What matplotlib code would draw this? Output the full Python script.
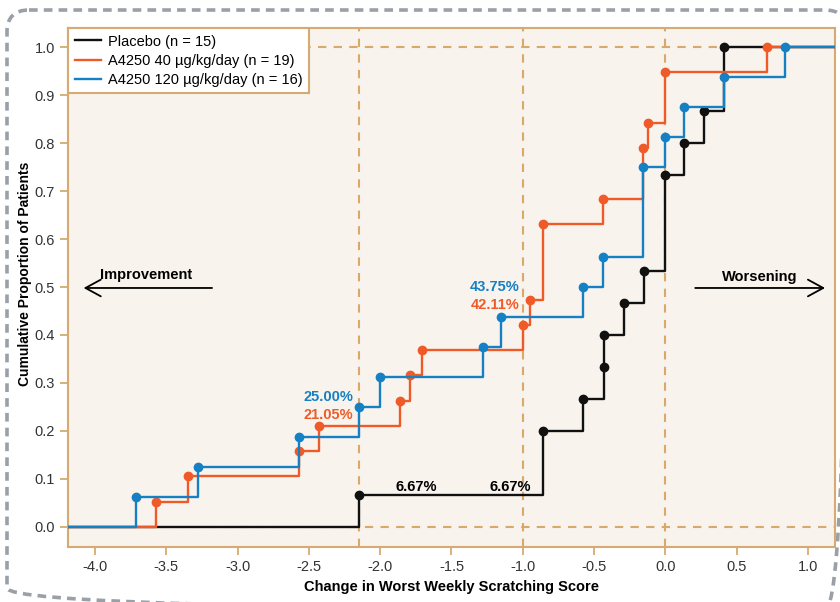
import numpy as np
import matplotlib
matplotlib.use("Agg")
import matplotlib.pyplot as plt
from matplotlib.patches import FancyBboxPatch

plt.rcParams['font.family'] = ['Liberation Sans', 'DejaVu Sans']

# cumulative step data (x where the step occurs, number of patients reached)
placebo_x = [-2.15, -0.86, -0.575, -0.43, -0.43, -0.29, -0.15, 0.0, 0.13, 0.27, 0.41]
placebo_n = [1, 3, 4, 5, 6, 7, 8, 11, 12, 13, 15]
placebo_total = 15

low_x = [-3.57, -3.35, -2.57, -2.43, -1.86, -1.79, -1.71, -1.0, -0.95, -0.86,
         -0.44, -0.16, -0.12, 0.0, 0.71]
low_n = [1, 2, 3, 4, 5, 6, 7, 8, 9, 12, 13, 15, 16, 18, 19]
low_total = 19

high_x = [-3.71, -3.28, -2.57, -2.15, -2.0, -1.28, -1.15, -0.575, -0.44, -0.154,
          0.0, 0.13, 0.41, 0.84]
high_n = [1, 2, 3, 4, 5, 6, 7, 8, 9, 12, 13, 14, 15, 16]
high_total = 16

labels = ["Placebo (n = 15)", "A4250 40 \u00b5g/kg/day (n = 19)", "A4250 120 \u00b5g/kg/day (n = 16)"]
colors = ["#111111", "#F05A28", "#1580C4"]

ref_x = [-2.15, -1.0, 0.0]
ref_y = [0.0, 1.0]

xmin, xmax = -4.19, 1.19
ymin, ymax = -0.042, 1.04

tan = "#D6AA72"
dash_col = "#D9A86A"

fig = plt.figure(figsize=(8.4, 6.02), dpi=100)

# outer dashed frame
bg = fig.add_axes([0, 0, 1, 1], zorder=-5)
bg.set_xlim(0, 840)
bg.set_ylim(602, 0)
bg.axis("off")
bg.add_patch(FancyBboxPatch((7, 10), 840, 600, boxstyle="round,pad=0,rounding_size=22",
                            fill=False, edgecolor="#9AA0A8", lw=2.6, linestyle=(0, (2.4, 1.7))))

ax = fig.add_axes([68 / 840, 1 - 547 / 602, (835 - 68) / 840, (547 - 28) / 602])
ax.set_facecolor("#F8F3EC")
ax.set_xlim(xmin, xmax)
ax.set_ylim(ymin, ymax)

for xv in ref_x:
    ax.axvline(xv, color=dash_col, lw=1.5, linestyle=(0, (4, 3.5)), zorder=1)
for yv in ref_y:
    ax.axhline(yv, color=dash_col, lw=1.5, linestyle=(0, (4, 3.5)), zorder=1)

series = [(placebo_x, placebo_n, placebo_total),
          (low_x, low_n, low_total),
          (high_x, high_n, high_total)]
handles = []
for i, (xs, ns, tot) in enumerate(series):
    ys = np.array(ns) / tot
    sx = [xmin] + list(xs) + [xmax]
    sy = [0.0] + list(ys) + [ys[-1]]
    h, = ax.plot(sx, sy, drawstyle="steps-post", color=colors[i], lw=1.7, zorder=3 + i,
                 label=labels[i])
    ax.plot(xs, ys, "o", color=colors[i], ms=6, zorder=3 + i)
    handles.append(h)

# percentage labels
ax.text(-2.19, 0.271, "25.00%", color=colors[2], fontsize=10.5, fontweight="bold",
        ha="right", va="center")
ax.text(-2.19, 0.233, "21.05%", color=colors[1], fontsize=10.5, fontweight="bold",
        ha="right", va="center")
ax.text(-1.02, 0.500, "43.75%", color=colors[2], fontsize=10.5, fontweight="bold",
        ha="right", va="center")
ax.text(-1.02, 0.4625, "42.11%", color=colors[1], fontsize=10.5, fontweight="bold",
        ha="right", va="center")
ax.text(-1.75, 0.083, "6.67%", color="black", fontsize=10.5, fontweight="bold",
        ha="center", va="center")
ax.text(-1.09, 0.083, "6.67%", color="black", fontsize=10.5, fontweight="bold",
        ha="center", va="center")

# direction arrows
arrow_style = dict(arrowstyle="->,head_length=1.1,head_width=0.6", color="black", lw=1.3)
ax.annotate("", xy=(-4.10, 0.498), xytext=(-3.16, 0.498), arrowprops=arrow_style)
ax.text(-3.64, 0.525, "Improvement", fontsize=10.5, fontweight="bold", ha="center", va="center")
ax.annotate("", xy=(1.14, 0.498), xytext=(0.19, 0.498), arrowprops=arrow_style)
ax.text(0.66, 0.521, "Worsening", fontsize=10.5, fontweight="bold", ha="center", va="center")

ax.set_xticks(np.arange(-4.0, 1.01, 0.5))
ax.set_xticklabels([f"{v:.1f}" for v in np.arange(-4.0, 1.01, 0.5)])
ax.set_yticks(np.arange(0, 1.01, 0.1))
ax.set_yticklabels([f"{v:.1f}" for v in np.arange(0, 1.01, 0.1)])
ax.tick_params(axis="both", colors=tan, labelcolor="#333333", labelsize=10.5,
               length=6, width=1.3, direction="out")
for s in ax.spines.values():
    s.set_color(tan)
    s.set_linewidth(1.5)

ax.set_xlabel("Change in Worst Weekly Scratching Score", fontsize=10.5, fontweight="bold")
ax.set_ylabel("Cumulative Proportion of Patients", fontsize=10, fontweight="bold")
ax.yaxis.set_label_coords(-0.047, 0.526)

leg = ax.legend(handles=handles, loc="upper left", borderaxespad=0, fontsize=10.5,
                frameon=True, fancybox=False, handlelength=1.8, handletextpad=0.5,
                labelspacing=0.35, borderpad=0.45)
leg.get_frame().set_edgecolor(tan)
leg.get_frame().set_linewidth(1.5)
leg.get_frame().set_facecolor("white")
leg.get_frame().set_alpha(1.0)
leg.set_zorder(10)

fig.savefig("out.png", dpi=100)
